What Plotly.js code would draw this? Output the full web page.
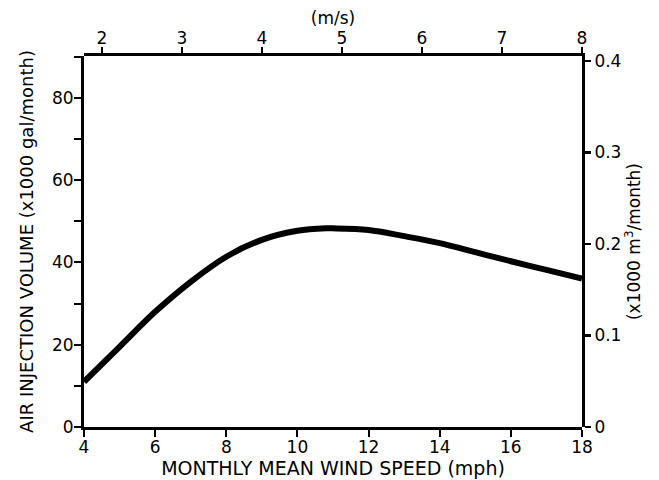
<!DOCTYPE html>
<html>
<head>
<meta charset="utf-8">
<script src="https://cdn.plot.ly/plotly-3.0.1.min.js"></script>
<style>html,body{margin:0;padding:0;background:#fff}#chart{width:659px;height:480px}</style>
</head>
<body>
<div id="chart"></div>
<script>
// Data
const windMph = [4, 5, 6, 7, 8, 9, 10, 10.8, 11, 12, 13, 14, 15, 16, 17, 18];
const airVolume = [11.0, 19.5, 28.0, 35.3, 41.4, 45.5, 47.7, 48.3, 48.3, 47.9, 46.4, 44.7, 42.5, 40.3, 38.2, 36.1];
const mphTicks = [4, 6, 8, 10, 12, 14, 16, 18];
const msTicks = [2, 3, 4, 5, 6, 7, 8];
const galTicks = [0, 20, 40, 60, 80];
const galMinorTicks = [0, 10, 20, 30, 40, 50, 60, 70, 80, 90];
const m3Ticks = [0, 0.1, 0.2, 0.3, 0.4];

const mphRange = [4, 18];
const msRange = [1.775, 8];
const galRange = [0, 90.2];
const m3Range = [0, 0.4055];

const font = 'DejaVu Sans, sans-serif';
// tick marks are drawn as minor ticks (nudged by a sub-pixel amount so they are not merged with the labelled ticks)
const nudge = (vals, range) => vals.map(v => v + (range[1] - range[0]) * 1e-4);
const tickMarks = (vals, range, len) => ({tickmode: 'array', tickvals: nudge(vals, range), ticks: 'outside', ticklen: len, tickwidth: 2, tickcolor: '#000', showgrid: false});

const common = {
  showgrid: false, zeroline: false, showline: true, linecolor: '#000', linewidth: 3,
  ticks: 'outside', tickcolor: '#000', tickwidth: 2, ticklen: 7
};

const traces = [
  {x: windMph, y: airVolume, xaxis: 'x', yaxis: 'y', type: 'scatter', mode: 'lines', line: {color: '#000', width: 6, shape: 'spline'}, hoverinfo: 'skip', showlegend: false},
  {x: [msTicks[0]], y: [m3Ticks[0]], xaxis: 'x2', yaxis: 'y2', type: 'scatter', mode: 'markers', marker: {opacity: 0}, hoverinfo: 'skip', showlegend: false}
];

const layout = {
  width: 659, height: 480,
  margin: {l: 84, r: 77, t: 56, b: 53},
  paper_bgcolor: '#fff', plot_bgcolor: 'rgba(0,0,0,0)',
  showlegend: false,
  xaxis: Object.assign({}, common, {
    domain: [0, 1], anchor: 'y',
    range: mphRange, tickmode: 'array', tickvals: mphTicks, ticklabelstandoff: -4,
    tickfont: {family: font, size: 17, color: '#000'},
    minor: tickMarks(mphTicks, mphRange, 7),
    title: {text: 'MONTHLY MEAN WIND SPEED (mph)', font: {family: font, size: 19, color: '#000'}, standoff: 5}
  }),
  yaxis: Object.assign({}, common, {
    domain: [0, 1], anchor: 'x',
    range: galRange, tickmode: 'array', tickvals: galTicks, ticklabelstandoff: -3,
    tickfont: {family: font, size: 17, color: '#000'},
    minor: tickMarks(galMinorTicks, galRange, 7),
    title: {text: 'AIR INJECTION VOLUME (x1000 gal/month)', font: {family: font, size: 18, color: '#000'}, standoff: 14}
  }),
  xaxis2: Object.assign({}, common, {
    domain: [0, 1], anchor: 'y2', side: 'top',
    range: msRange, tickmode: 'array', tickvals: msTicks, ticklen: 6, ticklabelstandoff: -4,
    tickfont: {family: font, size: 17, color: '#000'},
    minor: tickMarks(msTicks, msRange, 6),
    title: {text: '(m/s)', font: {family: font, size: 17, color: '#000'}, standoff: 0}
  }),
  yaxis2: Object.assign({}, common, {
    domain: [0, 1], anchor: 'x2', side: 'right',
    range: m3Range, tickmode: 'array', tickvals: m3Ticks, ticklen: 6,
    tickfont: {family: font, size: 17, color: '#000'},
    minor: tickMarks(m3Ticks, m3Range, 6),
    title: {text: '(x1000 m<sup>3</sup>/month)', font: {family: font, size: 17, color: '#000'}, standoff: 8}
  })
};

Plotly.newPlot('chart', traces, layout, {displayModeBar: false, staticPlot: true});
</script>
</body>
</html>
